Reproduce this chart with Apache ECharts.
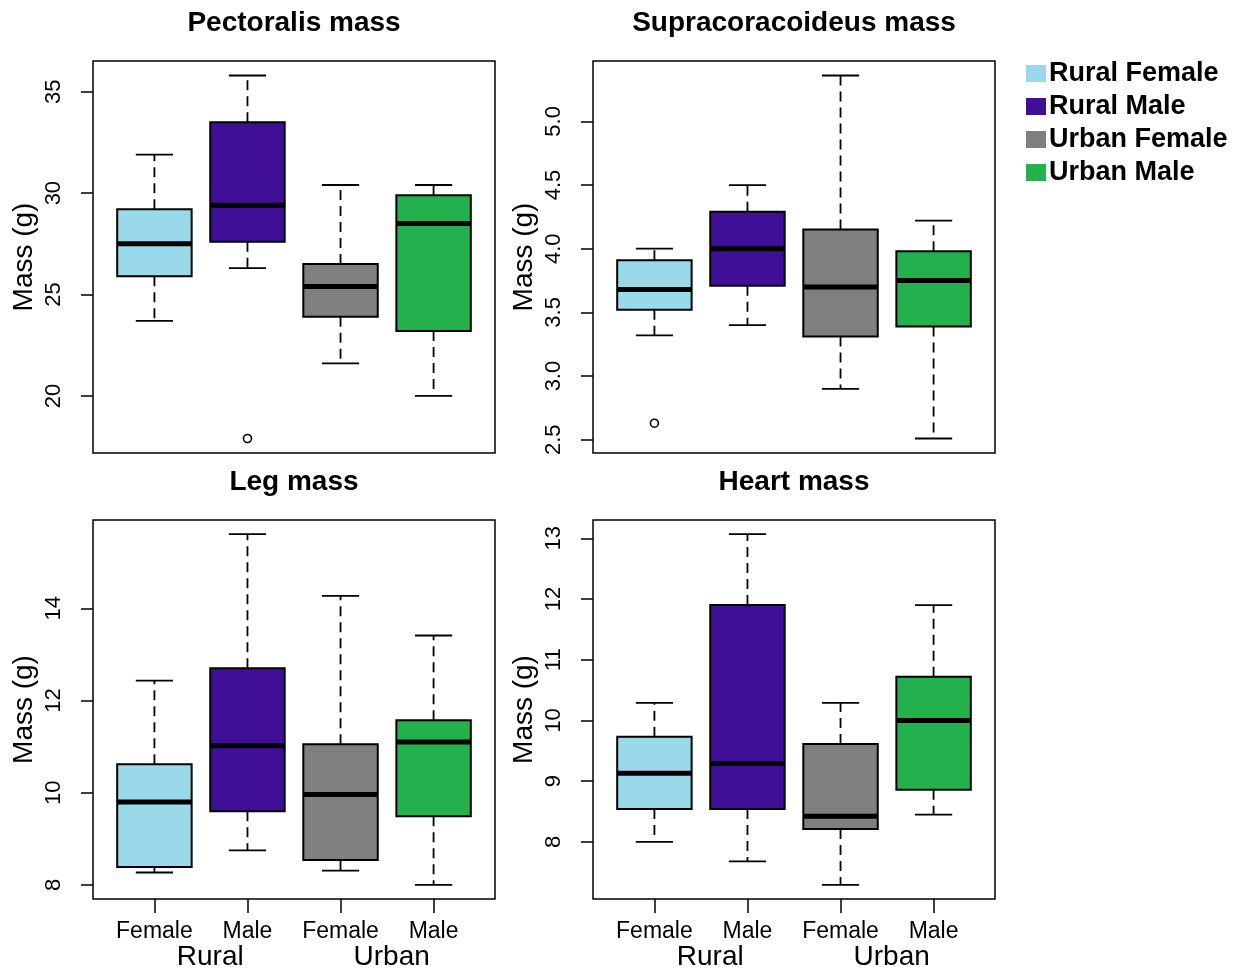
<!DOCTYPE html>
<html>
<head>
<meta charset="utf-8">
<title>Muscle and organ mass by habitat and sex</title>
<script src="https://cdn.jsdelivr.net/npm/echarts@6/dist/echarts.min.js"></script>
<style>
  html, body { margin: 0; padding: 0; background: #fff; }
  #chart { width: 1236px; height: 971px; }
</style>
</head>
<body>
<div id="chart"></div>
<script>
// Groups, in plotting order (positions 1..4 on each panel)
const groupNames = ['Rural Female', 'Rural Male', 'Urban Female', 'Urban Male'];
const groupColors = ['#99D9EA', '#3F0F98', '#7F7F7F', '#22B14C'];
const sexLabels = ['Female', 'Male', 'Female', 'Male'];
const regionLabels = ['Rural', 'Urban'];
const regionLabelAt = [1.6, 3.55];

const panelTitles = ['Pectoralis mass', 'Supracoracoideus mass', 'Leg mass', 'Heart mass'];

// Box statistics per group: [lower whisker, Q1, median, Q3, upper whisker]
const pectoralisStats = [
  [23.7, 25.9, 27.5, 29.2, 31.9],
  [26.3, 27.6, 29.4, 33.5, 35.8],
  [21.6, 23.9, 25.4, 26.5, 30.4],
  [20.0, 23.2, 28.5, 29.9, 30.4]
];
const supracoracoideusStats = [
  [3.32, 3.52, 3.68, 3.91, 4.00],
  [3.40, 3.71, 4.00, 4.29, 4.50],
  [2.90, 3.31, 3.70, 4.15, 5.36],
  [2.51, 3.39, 3.75, 3.98, 4.22]
];
const legStats = [
  [8.27, 8.39, 9.80, 10.62, 12.43],
  [8.75, 9.60, 11.02, 12.70, 15.61],
  [8.31, 8.54, 9.96, 11.05, 14.27],
  [8.00, 9.49, 11.10, 11.57, 13.41]
];
const heartStats = [
  [8.00, 8.54, 9.13, 9.73, 10.29],
  [7.68, 8.54, 9.29, 11.90, 13.07],
  [7.29, 8.21, 8.42, 9.61, 10.29],
  [8.45, 8.86, 10.00, 10.72, 11.90]
];

// Outlying points: [group position, value]
const pectoralisOutliers = [[2, 17.9]];
const supracoracoideusOutliers = [[1, 2.63]];
const legOutliers = [];
const heartOutliers = [];

// Y tick values per panel
const pectoralisTicks = [20, 25, 30, 35];
const supracoracoideusTicks = [2.5, 3.0, 3.5, 4.0, 4.5, 5.0];
const legTicks = [8, 10, 12, 14];
const heartTicks = [8, 9, 10, 11, 12, 13];

const panels = [
  { stats: pectoralisStats, outliers: pectoralisOutliers, ticks: pectoralisTicks, digits: 0 },
  { stats: supracoracoideusStats, outliers: supracoracoideusOutliers, ticks: supracoracoideusTicks, digits: 1 },
  { stats: legStats, outliers: legOutliers, ticks: legTicks, digits: 0 },
  { stats: heartStats, outliers: heartOutliers, ticks: heartTicks, digits: 0 }
];

const FONT = "'Liberation Sans', Arial, Helvetica, sans-serif";
const BOX_WIDTH = 0.8;   // in x units
const grids = [
  { left: 93, top: 61, width: 402, height: 392 },
  { left: 593, top: 61, width: 402, height: 392 },
  { left: 93, top: 520, width: 402, height: 379 },
  { left: 593, top: 520, width: 402, height: 379 }
];

// Axis extent padded by 4% on each side
function paddedRange(lo, hi) {
  const pad = (hi - lo) * 0.04;
  return [lo - pad, hi + pad];
}
const xRange = paddedRange(0.5, groupNames.length + 0.5);

function renderBox(params, api) {
  const x = api.value(0);
  const lo = api.coord([x, api.value(1)]);
  const q1 = api.coord([x, api.value(2)]);
  const med = api.coord([x, api.value(3)]);
  const q3 = api.coord([x, api.value(4)]);
  const hi = api.coord([x, api.value(5)]);
  const cx = med[0];
  const halfW = api.size([BOX_WIDTH, 0])[0] / 2;
  const capHalf = halfW / 2;
  const fill = api.visual('color');
  const whisker = { stroke: '#000', lineWidth: 1.8, lineDash: [10, 6] };
  const solid = { stroke: '#000', lineWidth: 1.8 };
  return {
    type: 'group',
    children: [
      { type: 'line', shape: { x1: cx, y1: q3[1], x2: cx, y2: hi[1] }, style: whisker },
      { type: 'line', shape: { x1: cx, y1: q1[1], x2: cx, y2: lo[1] }, style: whisker },
      { type: 'line', shape: { x1: cx - capHalf, y1: hi[1], x2: cx + capHalf, y2: hi[1] }, style: solid },
      { type: 'line', shape: { x1: cx - capHalf, y1: lo[1], x2: cx + capHalf, y2: lo[1] }, style: solid },
      { type: 'rect', shape: { x: cx - halfW, y: q3[1], width: halfW * 2, height: q1[1] - q3[1] },
        style: { fill: fill, stroke: '#000', lineWidth: 2 } },
      { type: 'line', shape: { x1: cx - halfW, y1: med[1], x2: cx + halfW, y2: med[1] },
        style: { stroke: '#000', lineWidth: 5, lineCap: 'butt' } }
    ]
  };
}

const xAxes = [];
const yAxes = [];
const series = [];

panels.forEach((p, i) => {
  const isBottom = i >= 2;
  const allVals = p.stats.flat().concat(p.outliers.map(o => o[1]));
  const yr = paddedRange(Math.min(...allVals), Math.max(...allVals));

  xAxes.push({
    type: 'value', gridIndex: i, min: xRange[0], max: xRange[1],
    axisLine: { show: false },
    splitLine: { show: false },
    axisTick: {
      show: isBottom, customValues: [1, 2, 3, 4], length: 14, inside: false,
      lineStyle: { color: '#000', width: 1.5 }
    },
    axisLabel: {
      show: isBottom, customValues: [1, 2, 3, 4], margin: 21,
      color: '#000', fontSize: 23, fontFamily: FONT,
      formatter: v => sexLabels[Math.round(v) - 1]
    }
  });

  yAxes.push({
    type: 'value', gridIndex: i, min: yr[0], max: yr[1],
    name: 'Mass (g)', nameLocation: 'middle', nameGap: 55,
    nameTextStyle: { color: '#000', fontSize: 28, fontFamily: FONT },
    axisLine: { show: false },
    splitLine: { show: false },
    axisTick: {
      show: true, customValues: p.ticks, length: 12, inside: false,
      lineStyle: { color: '#000', width: 1.5 }
    },
    axisLabel: {
      customValues: p.ticks, rotate: 90, margin: 28,
      color: '#000', fontSize: 22, fontFamily: FONT,
      formatter: v => v.toFixed(p.digits)
    }
  });

  p.stats.forEach((s, g) => {
    series.push({
      type: 'custom', name: groupNames[g],
      xAxisIndex: i, yAxisIndex: i,
      renderItem: renderBox,
      itemStyle: { color: groupColors[g] },
      encode: { x: 0, y: [1, 2, 3, 4, 5] },
      data: [[g + 1].concat(s)],
      clip: false
    });
  });

  if (p.outliers.length) {
    series.push({
      type: 'scatter', name: 'outliers',
      xAxisIndex: i, yAxisIndex: i,
      symbol: 'circle', symbolSize: 8,
      itemStyle: { color: '#fff', borderColor: '#000', borderWidth: 1.6, opacity: 1 },
      data: p.outliers
    });
  }
});

// Habitat labels beneath the bottom panels
[2, 3].forEach(i => {
  xAxes.push({
    type: 'value', gridIndex: i, min: xRange[0], max: xRange[1], position: 'bottom',
    axisLine: { show: false }, axisTick: { show: false }, splitLine: { show: false },
    axisLabel: {
      customValues: regionLabelAt, margin: 44,
      color: '#000', fontSize: 28, fontFamily: FONT,
      formatter: v => regionLabels[regionLabelAt.indexOf(v)]
    }
  });
});

const titles = panelTitles.map((t, i) => ({
  text: t,
  left: grids[i].left + grids[i].width / 2,
  top: i < 2 ? 9 : 468,
  padding: 0,
  textAlign: 'center',
  textStyle: { color: '#000', fontSize: 28, fontWeight: 'bold', fontFamily: FONT }
}));

const chart = echarts.init(document.getElementById('chart'), null, { renderer: 'canvas' });
chart.setOption({
  animation: false,
  backgroundColor: '#fff',
  title: titles,
  grid: grids.map(g => Object.assign({ show: true, borderColor: '#000', borderWidth: 1.5, backgroundColor: 'transparent' }, g)),
  legend: {
    orient: 'vertical', left: 1021, top: 55,
    icon: 'rect', itemWidth: 20, itemHeight: 17, itemGap: 6,
    selectedMode: false,
    textStyle: { color: '#000', fontSize: 27, fontWeight: 'bold', fontFamily: FONT, padding: [0, 0, 0, -2] },
    data: groupNames.map((n, g) => ({ name: n, itemStyle: { color: groupColors[g] } }))
  },
  xAxis: xAxes,
  yAxis: yAxes,
  series: series
});
</script>
</body>
</html>
